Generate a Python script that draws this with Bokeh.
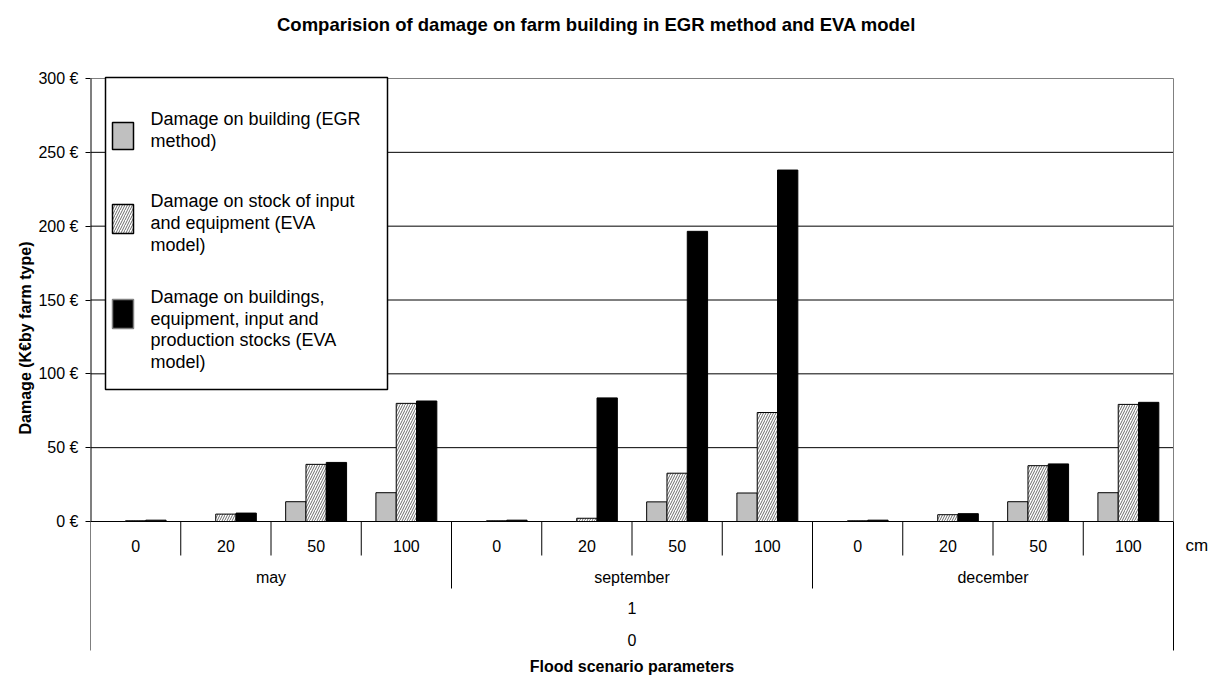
import numpy as np
from bokeh.plotting import figure
from bokeh.models import Range1d, FixedTicker, PrintfTickFormatter, Title
from bokeh.core.properties import value
from bokeh.embed import file_html
from bokeh.resources import INLINE

# ---------------- data ----------------
months = ["may", "september", "december"]
depths = ["0", "20", "50", "100"]
depth_unit = "cm"
level3_label = "1"
level4_label = "0"

egr_building = [0, 0, 13.4, 19.5, 0, 0, 13.3, 19.3, 0, 0, 13.4, 19.5]
eva_stock = [0.5, 5.0, 38.7, 80.0, 0.5, 2.2, 32.7, 73.8, 0.5, 4.6, 37.8, 79.3]
eva_total = [0.9, 5.7, 40.0, 81.6, 0.9, 83.7, 196.5, 238.0, 0.9, 5.3, 39.0, 80.7]

legend_lines = [
    ["Damage on building (EGR", "method)"],
    ["Damage on stock of input", "and equipment (EVA", "model)"],
    ["Damage on buildings,", "equipment, input and", "production stocks (EVA", "model)"],
]
y_ticks = [0, 50, 100, 150, 200, 250, 300]
title_text = "Comparision of damage on farm building in EGR method and EVA model"
y_title = "Damage (K\u20acby farm type)"
x_title = "Flood scenario parameters"

FONT = value("Liberation Sans")

# ---------------- layout helpers (picture pixels -> data) ----------------
W, H = 1208, 675
X0, X1 = 90, 1173          # px of the category axis start / end
Y0, Y300 = 521, 78         # px of value 0 and 300
PXU = (X1 - X0) / 12.0
PYU = (Y0 - Y300) / 300.0


def dx(px):
    return (px - X0) / PXU


def dy(py):
    return (Y0 - py) / PYU


p = figure(width=W, height=H, x_range=Range1d(0, dx(W)), y_range=Range1d(dy(H), dy(0)),
           output_backend="svg", toolbar_location=None,
           min_border_left=X0, min_border_right=0,
           min_border_top=0, min_border_bottom=0)
p.outline_line_color = None
p.background_fill_color = "white"
p.border_fill_color = "white"
p.xaxis.visible = False
p.xgrid.visible = False
p.ygrid.visible = False

ax = p.yaxis[0]
ax.ticker = FixedTicker(ticks=y_ticks)
ax.formatter = PrintfTickFormatter(format="%d \u20ac")
ax.axis_line_color = None
ax.major_tick_in = 0
ax.major_tick_out = 5
ax.major_tick_line_color = "black"
ax.minor_tick_line_color = None
ax.major_label_text_font = "Liberation Sans"
ax.major_label_text_font_size = "16px"
ax.major_label_text_color = "black"
ax.major_label_standoff = 7

# y-axis title, centred on the value area (0..300)
p.add_layout(Title(text=y_title, align="center", offset=(H / 2 - (Y0 + Y300) / 2),
                   text_font="Liberation Sans", text_font_size="16px",
                   text_font_style="bold", text_color="black", standoff=4), "left")

n = len(months) * len(depths)

# ---------------- grid & frame lines ----------------
grid_vals = y_ticks[:-1]
p.segment(x0=[0] * len(grid_vals), y0=grid_vals, x1=[n] * len(grid_vals), y1=grid_vals,
          line_color="black", line_width=1)
p.segment(x0=[0, n], y0=[y_ticks[-1], y_ticks[-1]], x1=[n, n], y1=[y_ticks[-1], 0],
          line_color="#808080", line_width=1)

# ---------------- bars ----------------
centers = np.arange(n) + 0.5
bw = 0.225
p.vbar(x=centers - bw, top=egr_building, bottom=0, width=bw,
       fill_color="#C0C0C0", line_color="black", line_width=1)
p.vbar(x=centers, top=eva_stock, bottom=0, width=bw,
       fill_color="white", hatch_pattern="/", hatch_color="#6b6b6b",
       hatch_scale=5, hatch_weight=1, line_color="black", line_width=1)
p.vbar(x=centers + bw, top=eva_total, bottom=0, width=bw,
       fill_color="black", line_color="black", line_width=1)

# ---------------- category separators ----------------
bounds = np.arange(n + 1)
low = []
for b in bounds:
    if b == 0 or b == n:
        low.append(dy(650))
    elif b % len(depths) == 0:
        low.append(dy(588))
    else:
        low.append(dy(555))
p.segment(x0=bounds, y0=[0] * len(bounds), x1=bounds, y1=low,
          line_color="black", line_width=1)
p.segment(x0=[0], y0=[y_ticks[-1]], x1=[0], y1=[0], line_color="black", line_width=2)

# ---------------- category labels ----------------
p.text(x=centers, y=[dy(545)] * n, text=depths * len(months),
       text_font=FONT, text_font_size=value("16px"), text_color="black",
       text_align="center", text_baseline="middle")
month_x = np.arange(len(months)) * len(depths) + len(depths) / 2
p.text(x=month_x, y=[dy(577)] * len(months), text=months,
       text_font=FONT, text_font_size=value("16px"), text_color="black",
       text_align="center", text_baseline="middle")
p.text(x=[n / 2, n / 2], y=[dy(607), dy(639)], text=[level3_label, level4_label],
       text_font=FONT, text_font_size=value("16px"), text_color="black",
       text_align="center", text_baseline="middle")
p.text(x=[dx(1185)], y=[dy(545)], text=[depth_unit],
       text_font=FONT, text_font_size=value("17px"), text_color="black",
       text_align="left", text_baseline="middle")
p.text(x=[n / 2], y=[dy(666)], text=[x_title],
       text_font=FONT, text_font_size=value("16px"), text_font_style="bold",
       text_color="black", text_align="center", text_baseline="middle")

# ---------------- chart title ----------------
p.text(x=[dx(596)], y=[dy(24)], text=[title_text],
       text_font=FONT, text_font_size=value("18.5px"), text_font_style="bold",
       text_color="black", text_align="center", text_baseline="middle")

# ---------------- legend (drawn) ----------------
p.quad(left=[dx(105)], right=[dx(387)], top=[dy(77)], bottom=[dy(389)],
       fill_color="white", line_color="black", line_width=1.5)
sw_l, sw_r = dx(112), dx(133)
p.quad(left=[sw_l], right=[sw_r], top=[dy(122)], bottom=[dy(149)],
       fill_color="#C0C0C0", line_color="black", line_width=1.5)
p.quad(left=[sw_l], right=[sw_r], top=[dy(204)], bottom=[dy(233)],
       fill_color="white", hatch_pattern="/", hatch_color="#6b6b6b",
       hatch_scale=5, hatch_weight=1, line_color="black", line_width=1.5)
p.quad(left=[sw_l], right=[sw_r], top=[dy(299)], bottom=[dy(328)],
       fill_color="black", line_color="#808080", line_width=1.5)
line_px = [[118, 140], [200, 222, 244], [296, 318, 339, 361]]
lx, ly, lt = [], [], []
for lines, pys in zip(legend_lines, line_px):
    for t, py in zip(lines, pys):
        lx.append(dx(150))
        ly.append(dy(py))
        lt.append(t)
p.text(x=lx, y=ly, text=lt, text_font=FONT, text_font_size=value("18px"),
       text_color="black", text_align="left", text_baseline="middle")

open("out.html", "w").write(file_html(p, INLINE))
